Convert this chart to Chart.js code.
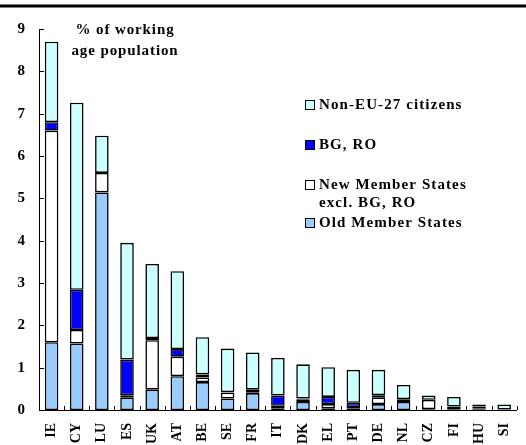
<!DOCTYPE html>
<html>
<head>
<meta charset="utf-8">
<script src="https://cdn.jsdelivr.net/npm/chart.js@4"></script>
<style>
  html, body { margin: 0; padding: 0; background: #fff; }
  #wrap { width: 526px; height: 445px; }
</style>
</head>
<body>
<div id="wrap"><canvas id="migrants"></canvas></div>
<script>
const countries = ['IE', 'CY', 'LU', 'ES', 'UK', 'AT', 'BE', 'SE', 'FR', 'IT', 'DK', 'EL', 'PT', 'DE', 'NL', 'CZ', 'FI', 'HU', 'SI'];
const oldMS  = [1.6, 1.57, 5.14, 0.3, 0.48, 0.8, 0.66, 0.27, 0.4, 0.04, 0.19, 0.04, 0.04, 0.14, 0.19, 0.02, 0.02, 0.02, 0.0];
const newMS  = [5.0, 0.32, 0.46, 0.05, 1.17, 0.46, 0.11, 0.14, 0.02, 0.06, 0.05, 0.1, 0.03, 0.16, 0.05, 0.22, 0.06, 0.02, 0.01];
const bgRo   = [0.2, 0.95, 0.0, 0.84, 0.05, 0.18, 0.07, 0.01, 0.06, 0.24, 0.03, 0.17, 0.1, 0.05, 0.02, 0.0, 0.0, 0.04, 0.0];
const nonEU  = [1.9, 4.42, 0.88, 2.76, 1.75, 1.84, 0.88, 1.03, 0.88, 0.89, 0.81, 0.7, 0.78, 0.6, 0.33, 0.1, 0.23, 0.05, 0.12];
const yTicks = [0, 1, 2, 3, 4, 5, 6, 7, 8, 9];

const serif = "'Liberation Serif', 'Times New Roman', serif";

// legend is drawn by hand, top to bottom, like the original
const legendRows = [
    { ds: 3, lines: ['Non-EU-27 citizens'], y: 105 },
    { ds: 2, lines: ['BG, RO'], y: 145 },
    { ds: 1, lines: ['New Member States', 'excl. BG, RO'], y: 185 },
    { ds: 0, lines: ['Old Member States'], y: 223 }
];

const decorations = {
    id: 'decorations',
    afterDraw(chart) {
        const ctx = chart.ctx;
        const x = chart.scales.x, y = chart.scales.y;
        const area = chart.chartArea;
        ctx.save();

        // thick rule across the top
        ctx.fillStyle = '#000';
        ctx.fillRect(0, 4.5, chart.width, 3);

        // inside tick marks
        ctx.strokeStyle = '#000';
        ctx.lineWidth = 1;
        ctx.beginPath();
        const step = x.getPixelForValue(1) - x.getPixelForValue(0);
        for (let i = 0; i <= countries.length; i++) {
            const px = Math.round(x.getPixelForValue(i) - step / 2) + 0.5;
            ctx.moveTo(px, area.bottom);
            ctx.lineTo(px, area.bottom - 4);
        }
        yTicks.forEach(v => {
            const py = Math.round(y.getPixelForValue(v)) + 0.5;
            ctx.moveTo(area.left, py);
            ctx.lineTo(area.left + 5, py);
        });
        ctx.stroke();

        // unit note
        ctx.fillStyle = '#000';
        ctx.font = 'bold 15px ' + serif;
        ctx.letterSpacing = '0.9px';
        ctx.textAlign = 'center';
        ctx.textBaseline = 'middle';
        ctx.fillText('% of working', 125, 30);
        ctx.fillText('age population', 125, 51);

        // legend
        ctx.textAlign = 'left';
        ctx.letterSpacing = '1.1px';
        legendRows.forEach(row => {
            const ds = chart.data.datasets[row.ds];
            ctx.fillStyle = ds.backgroundColor;
            ctx.fillRect(305, row.y - 5, 9, 9);
            ctx.strokeStyle = '#000';
            ctx.lineWidth = 1;
            ctx.strokeRect(305.5, row.y - 4.5, 9, 9);
            ctx.fillStyle = '#000';
            row.lines.forEach((t, k) => ctx.fillText(t, 319, row.y + k * 18));
        });
        ctx.restore();
    }
};

function bars(label, data, color) {
    return {
        label: label,
        // empty segments are left out so they leave no stray outline
        data: data.map(v => (v > 0 ? v : null)),
        backgroundColor: color,
        borderColor: '#000',
        borderWidth: 1.6,
        borderSkipped: false,
        barPercentage: 0.54,
        categoryPercentage: 1
    };
}

new Chart(document.getElementById('migrants'), {
    type: 'bar',
    data: {
        labels: countries,
        datasets: [
            bars('Old Member States', oldMS, '#99CCFF'),
            bars('New Member States excl. BG, RO', newMS, '#FFFFFF'),
            bars('BG, RO', bgRo, '#0000FF'),
            bars('Non-EU-27 citizens', nonEU, '#CCFFFF')
        ]
    },
    options: {
        responsive: true,
        maintainAspectRatio: false,
        animation: false,
        layout: { padding: { top: 29, right: 0, left: 0, bottom: 0 } },
        plugins: { legend: { display: false }, tooltip: { enabled: false } },
        scales: {
            x: {
                stacked: true,
                grid: { display: false },
                border: { display: true, color: '#000', width: 1 },
                ticks: {
                    color: '#000',
                    font: { family: serif, size: 14, weight: 'bold' },
                    minRotation: 90,
                    maxRotation: 90,
                    autoSkip: false,
                    padding: 5
                },
                afterFit(s) { s.height = 35; }
            },
            y: {
                stacked: true,
                min: 0,
                max: 9,
                grid: { display: false },
                border: { display: true, color: '#000', width: 1 },
                ticks: {
                    stepSize: 1,
                    color: '#000',
                    font: { family: serif, size: 15, weight: 'bold' },
                    padding: 6
                },
                afterFit(s) { s.width = 39; }
            }
        }
    },
    plugins: [decorations]
});
</script>
</body>
</html>
